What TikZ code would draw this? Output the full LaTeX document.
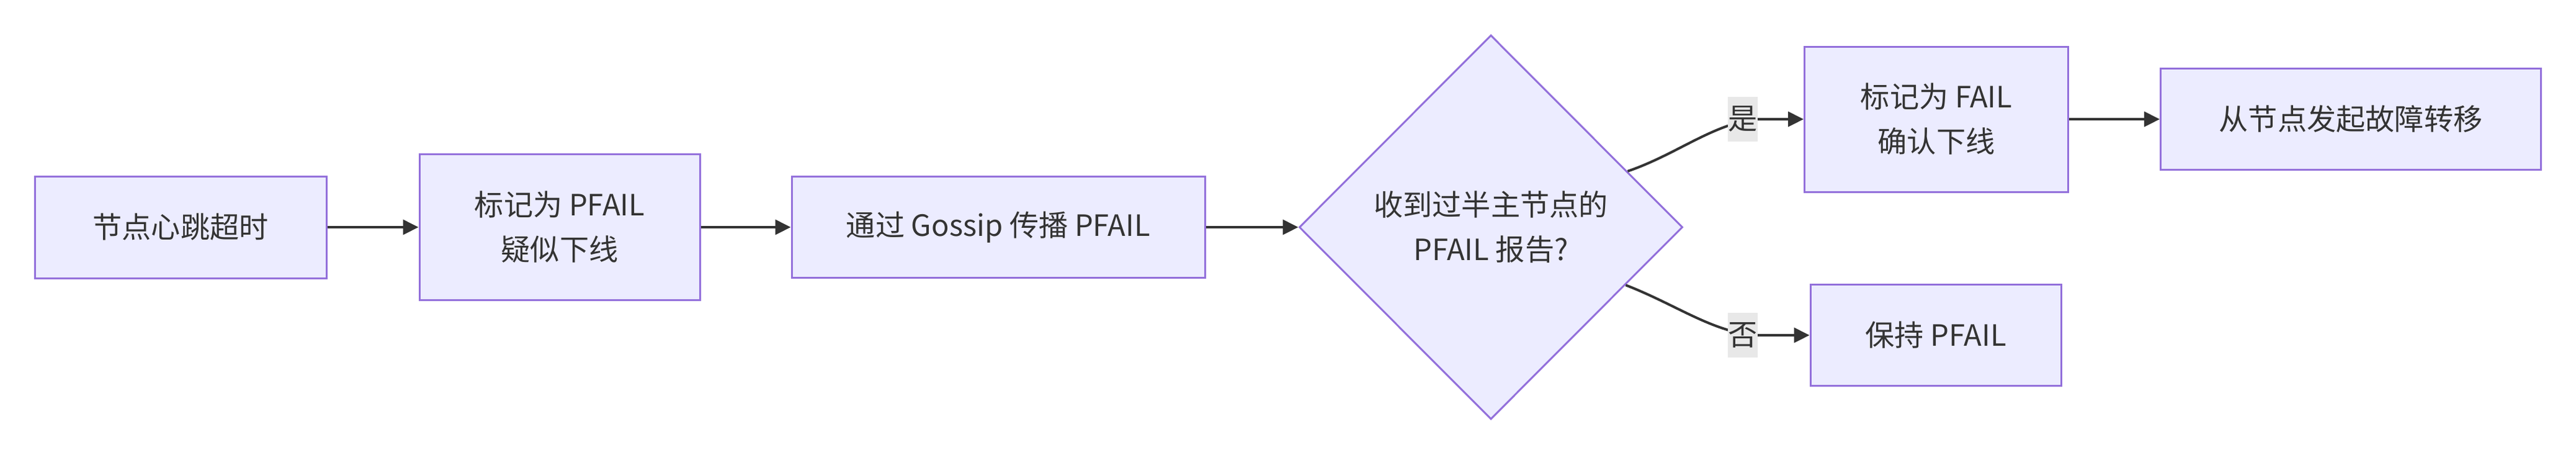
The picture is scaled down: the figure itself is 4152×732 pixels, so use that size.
\documentclass[tikz,border=0pt]{standalone}
\usepackage{fontspec}
\setmainfont{Noto Sans CJK SC}
\usetikzlibrary{shapes.geometric,arrows.meta,calc}
\definecolor{nodefill}{HTML}{ECECFF}
\definecolor{nodeline}{HTML}{9370DB}
\definecolor{edgecol}{HTML}{333333}
\definecolor{labelbg}{HTML}{E8E8E8}
\begin{document}
\begin{tikzpicture}[x=0.25pt,y=-0.25pt,
 box/.style={draw=nodeline,fill=nodefill,line width=0.75pt,inner sep=0pt,align=center,text=edgecol,font=\fontsize{11.8}{18}\selectfont},
 dec/.style={box,diamond,aspect=1},
 flow/.style={draw=edgecol,line width=1pt,-{Triangle[length=6.25pt,width=6pt]}},
 elabel/.style={fill=labelbg,inner sep=0pt,minimum width=12pt,minimum height=18pt,text=edgecol,font=\fontsize{11.8}{18}\selectfont}]
\useasboundingbox (0,0) rectangle (4152,732);
\node[box,minimum width=117.5pt,minimum height=41pt] (a) at (291,366) {节点心跳超时};
\node[box,minimum width=113pt,minimum height=58.75pt] (b) at (902,366) {标记为 PFAIL\\疑似下线};
\node[box,minimum width=166.5pt,minimum height=40.75pt] (c) at (1609,366) {通过 Gossip 传播 PFAIL};
\node[dec,minimum width=154.5pt,minimum height=154.75pt] (d) at (2403,366) {收到过半主节点的\\PFAIL 报告?};
\node[box,minimum width=106.25pt,minimum height=58.5pt] (e) at (3121,192) {标记为 FAIL\\确认下线};
\node[box,minimum width=153.25pt,minimum height=40.75pt] (f) at (3789,192) {从节点发起故障转移};
\node[box,minimum width=101pt,minimum height=40.75pt] (g) at (3120,540) {保持 PFAIL};
\draw[flow] (a.east) -- (b.west);
\draw[flow] (b.east) -- (c.west);
\draw[flow] (c.east) -- (d.west);
\draw[flow] (e.east) -- (f.west);
\coordinate (ys) at ($(d.east)!0.29!(d.north)$);
\coordinate (ns) at ($(d.east)!0.30!(d.south)$);
\coordinate (ye) at (2830,192);
\coordinate (ne) at (2830,540);
\draw[flow] (ys) .. controls (2700,250) and (2760,200) .. (ye) -- (e.west);
\draw[flow] (ns) .. controls (2700,490) and (2760,535) .. (ne) -- (g.west);
\node[elabel] (ly) at (2809,192) {是};
\node[elabel] (ln) at (2809,540) {否};
\end{tikzpicture}
\end{document}
